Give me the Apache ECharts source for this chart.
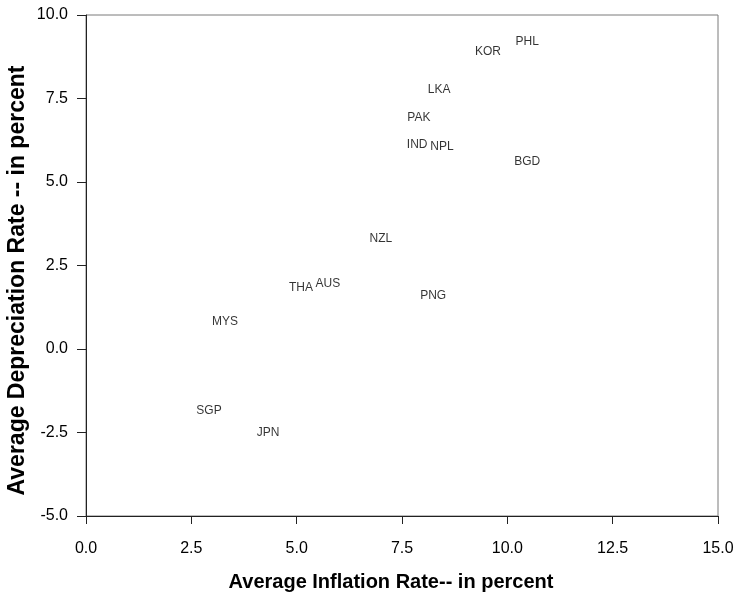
<!DOCTYPE html>
<html>
<head>
<meta charset="utf-8">
<script src="https://cdn.jsdelivr.net/npm/echarts@6/dist/echarts.min.js"></script>
<style>
  html, body { margin: 0; padding: 0; background: #fff; }
  #chart { width: 738px; height: 596px; }
</style>
</head>
<body>
<div id="chart"></div>
<script>
// country codes, average inflation (x) and average depreciation (y), in percent
const countries = ['PHL', 'KOR', 'LKA', 'PAK', 'IND', 'NPL', 'BGD', 'NZL', 'PNG', 'THA', 'AUS', 'MYS', 'SGP', 'JPN'];
const inflation = [10.47, 9.54, 8.38, 7.90, 7.86, 8.45, 10.47, 7.00, 8.24, 5.10, 5.74, 3.30, 2.92, 4.32];
const depreciation = [9.19, 8.89, 7.75, 6.92, 6.11, 6.05, 5.60, 3.29, 1.59, 1.83, 1.95, 0.81, -1.86, -2.51];

const xTicks = [0, 2.5, 5, 7.5, 10, 12.5, 15];
const yTicks = [-5, -2.5, 0, 2.5, 5, 7.5, 10];

const chart = echarts.init(document.getElementById('chart'), null, { renderer: 'canvas' });

const axisColor = '#222';
const fmt = (v) => v.toFixed(1);

chart.setOption({
  animation: false,
  textStyle: { fontFamily: 'Liberation Sans, Arial, sans-serif' },
  grid: {
    left: 86, right: 20, top: 15, bottom: 80,
    outerBoundsMode: 'none',
    containLabel: false,
    show: true,
    borderColor: '#7a7a7a',
    borderWidth: 1,
  },
  xAxis: {
    type: 'value',
    min: xTicks[0],
    max: xTicks[xTicks.length - 1],
    interval: 2.5,
    name: 'Average Inflation Rate-- in percent',
    nameLocation: 'middle',
    nameGap: 56,
    nameTextStyle: { fontSize: 20, fontWeight: 'bold', color: '#000', padding: [0, 22, 0, 0] },
    axisLine: { show: true, onZero: false, lineStyle: { color: axisColor, width: 1 } },
    axisTick: { show: true, inside: false, length: 8, lineStyle: { color: axisColor } },
    axisLabel: { fontSize: 16, color: '#000', margin: 25, formatter: fmt },
    splitLine: { show: false },
  },
  yAxis: {
    type: 'value',
    min: yTicks[0],
    max: yTicks[yTicks.length - 1],
    interval: 2.5,
    name: 'Average Depreciation Rate -- in percent',
    nameLocation: 'middle',
    nameGap: 57,
    nameMoveOverlap: false,
    nameTextStyle: { fontSize: 23, fontWeight: 'bold', color: '#000', padding: [0, 30, 0, 0] },
    axisLine: { show: true, onZero: false, lineStyle: { color: axisColor, width: 1 } },
    axisTick: { show: true, inside: false, length: 9, lineStyle: { color: axisColor } },
    axisLabel: { fontSize: 16, color: '#000', margin: 18, formatter: fmt },
    splitLine: { show: false },
  },
  series: [{
    type: 'scatter',
    symbolSize: 0,
    data: countries.map((c, i) => ({ name: c, value: [inflation[i], depreciation[i]] })),
    label: {
      show: true,
      position: 'inside',
      formatter: (p) => p.name,
      fontSize: 12,
      color: '#000',
    },
  }],
});
</script>
</body>
</html>
